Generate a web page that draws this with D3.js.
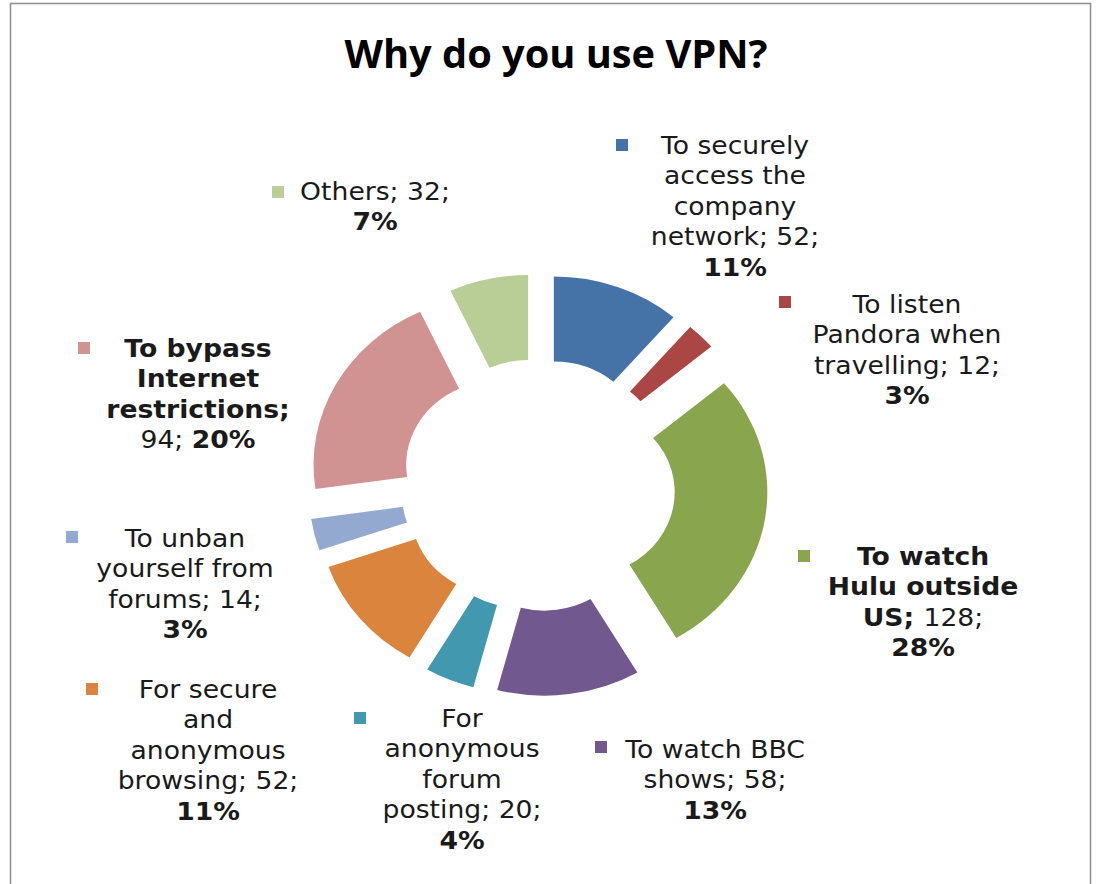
<!DOCTYPE html>
<html>
<head>
<meta charset="utf-8">
<script src="https://cdn.jsdelivr.net/npm/d3@7"></script>
<style>
  body { margin: 0; background: #fff; }
  svg { display: block; }
</style>
</head>
<body>
<div id="chart"></div>
<script>
// data
var categories = [
    "To securely access the company network",
    "To listen Pandora when travelling",
    "To watch Hulu outside US",
    "To watch BBC shows",
    "For anonymous forum posting",
    "For secure and anonymous browsing",
    "To unban yourself from forums",
    "To bypass Internet restrictions",
    "Others"
];
var values = [52, 12, 128, 58, 20, 52, 14, 94, 32];
var colors = ["#4572A7", "#AA4643", "#89A54E", "#71588F", "#4198AF", "#DB843D", "#93A9CF", "#D19392", "#B9CD96"];
var titleText = "Why do you use VPN?";

// label layout: #v = value, #p = percent
var labelLayout = [
    { x: 735, y: 154, sx: 622, sy: 145, lines: ["To securely", "access the", "company", "network; #v;", "#p"] },
    { x: 907, y: 313, sx: 785, sy: 302, lines: ["To listen", "Pandora when", "travelling; #v;", "#p"] },
    { x: 923, y: 565, sx: 804, sy: 556, bold: true, lines: ["To watch", "Hulu outside", "US; #v;", "#p"] },
    { x: 715, y: 758, sx: 601, sy: 747, lines: ["To watch BBC", "shows; #v;", "#p"] },
    { x: 462, y: 727, sx: 360, sy: 718, lines: ["For", "anonymous", "forum", "posting; #v;", "#p"] },
    { x: 208, y: 698, sx: 92, sy: 689, lines: ["For secure", "and", "anonymous", "browsing; #v;", "#p"] },
    { x: 185, y: 547, sx: 72, sy: 537, lines: ["To unban", "yourself from", "forums; #v;", "#p"] },
    { x: 198, y: 357, sx: 84, sy: 348, bold: true, lines: ["To bypass", "Internet", "restrictions;", "#v; #p"] },
    { x: 375, y: 200, sx: 278, sy: 192, lines: ["Others; #v;", "#p"] }
];

var W = 1097, H = 884;
var cx = 538, cy = 485, stretch = 1.09;
var outerR = 169, innerR = 84, explode = 42;
var lineH = 30.5;

var svg = d3.select("#chart").append("svg")
    .attr("width", W)
    .attr("height", H);

// frame
svg.append("rect")
    .attr("x", 10.5).attr("y", 3.5)
    .attr("width", 1080).attr("height", H + 20)
    .attr("fill", "#fff")
    .attr("stroke", "#8c8c8c")
    .attr("stroke-width", 1.5);

svg.append("text")
    .attr("x", 556).attr("y", 68)
    .attr("text-anchor", "middle")
    .attr("font-family", "'Liberation Sans Narrow', 'Open Sans', sans-serif")
    .attr("font-weight", "bold")
    .attr("font-size", 40)
    .attr("textLength", 423)
    .attr("lengthAdjust", "spacingAndGlyphs")
    .attr("fill", "#000")
    .text(titleText);

var total = d3.sum(values);
var pie = d3.pie().sort(null).value(function (d) { return d; });
var arc = d3.arc().innerRadius(innerR).outerRadius(outerR);

var pieG = svg.append("g")
    .attr("transform", "translate(" + cx + "," + cy + ") scale(" + stretch + ",1)");

pieG.selectAll("path")
    .data(pie(values))
    .enter().append("path")
    .attr("d", arc)
    .attr("fill", function (d, i) { return colors[i]; })
    .attr("transform", function (d) {
        var mid = (d.startAngle + d.endAngle) / 2;
        return "translate(" + (Math.sin(mid) * explode) + "," + (-Math.cos(mid) * explode) + ")";
    });

// labels
labelLayout.forEach(function (lay, i) {
    var v = values[i];
    var pct = Math.round(v / total * 100) + "%";

    svg.append("rect")
        .attr("x", lay.sx - 6).attr("y", lay.sy - 6)
        .attr("width", 12).attr("height", 12)
        .attr("fill", colors[i]);

    var g = svg.append("g")
        .attr("transform", "translate(" + lay.x + "," + lay.y + ") scale(1.11,1)");

    lay.lines.forEach(function (line, k) {
        var t = g.append("text")
            .attr("x", 0).attr("y", k * lineH)
            .attr("text-anchor", "middle")
            .attr("font-family", "'DejaVu Sans', Verdana, sans-serif")
            .attr("font-size", 24)
            .attr("fill", "#1a1a1a");
        line.split(/(#v|#p)/).forEach(function (tok) {
            if (tok === "") return;
            if (tok === "#v") {
                t.append("tspan").text(v);
            } else if (tok === "#p") {
                t.append("tspan").attr("font-weight", "bold").text(pct);
            } else {
                var isName = !/^[;\s]+$/.test(tok);
                t.append("tspan")
                    .attr("font-weight", lay.bold && isName ? "bold" : "normal")
                    .text(tok);
            }
        });
    });
});
</script>
</body>
</html>
